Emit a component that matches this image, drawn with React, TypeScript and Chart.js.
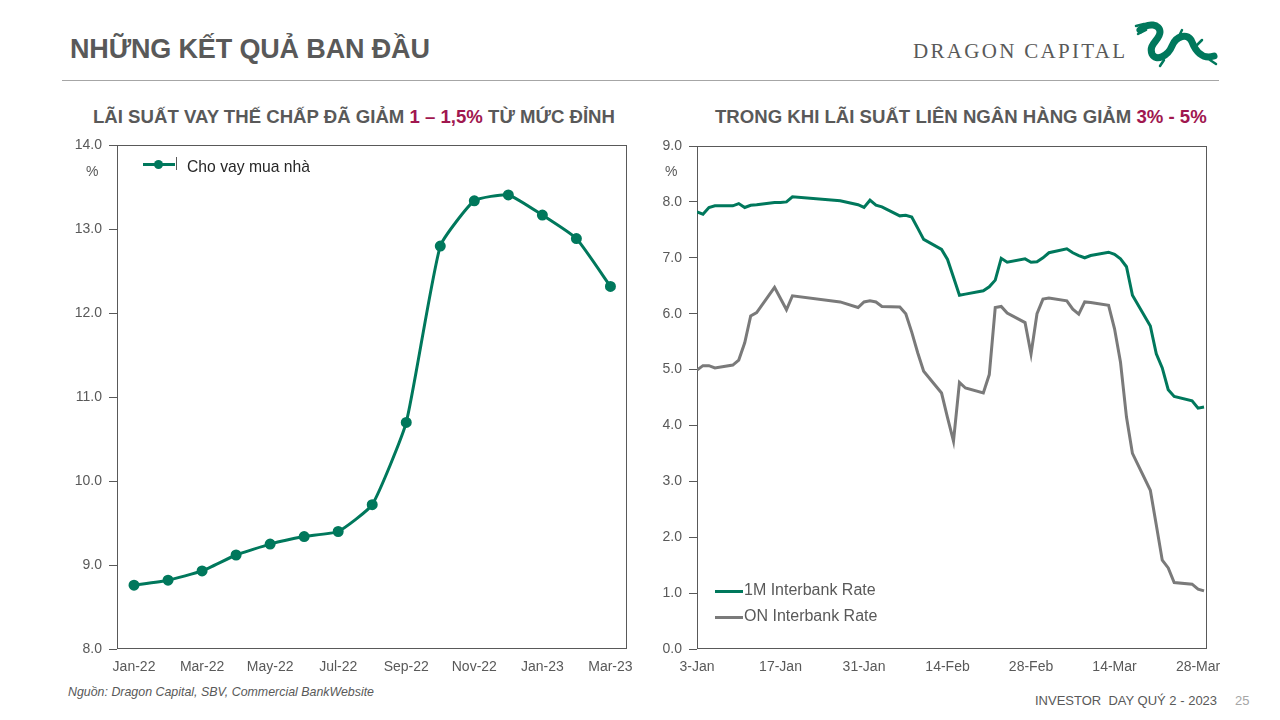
import React, { useEffect, useRef } from "react";
import { Chart, registerables } from "chart.js";

Chart.register(...registerables);

// ---------- Data ----------
const mortgageMonths = [
  "Jan-22", "Feb-22", "Mar-22", "Apr-22", "May-22", "Jun-22", "Jul-22", "Aug-22",
  "Sep-22", "Oct-22", "Nov-22", "Dec-22", "Jan-23", "Feb-23", "Mar-23",
];
const mortgageRates = [
  8.76, 8.82, 8.93, 9.12, 9.25, 9.34, 9.40, 9.72, 10.70, 12.80, 13.34, 13.41, 13.17, 12.89, 12.32,
];
const mortgageYTicks = [8, 9, 10, 11, 12, 13, 14];

const interbankDates = [
  "01-03", "01-04", "01-05", "01-06", "01-09", "01-10", "01-11", "01-12", "01-13",
  "01-16", "01-17", "01-18", "01-19", "01-27", "01-30", "01-31",
  "02-01", "02-02", "02-03", "02-06", "02-07", "02-08", "02-09", "02-10",
  "02-13", "02-14", "02-15", "02-16", "02-17", "02-20", "02-21", "02-22", "02-23", "02-24",
  "02-27", "02-28", "03-01", "03-02", "03-03", "03-06", "03-07", "03-08", "03-09", "03-10",
  "03-13", "03-14", "03-15", "03-16", "03-17", "03-20", "03-21", "03-22", "03-23", "03-24",
  "03-27", "03-28", "03-29",
];
const rate1M = [
  7.82, 7.78, 7.90, 7.93, 7.93, 7.97, 7.90, 7.94, 7.95,
  7.99, 7.99, 8.00, 8.09, 8.02, 7.95, 7.90,
  8.03, 7.94, 7.91, 7.75, 7.76, 7.73, 7.53, 7.33,
  7.15, 6.97, 6.65, 6.33, 6.35, 6.41, 6.48, 6.60, 6.99, 6.92,
  6.98, 6.92, 6.93, 7.00, 7.09, 7.16, 7.09, 7.04, 7.00, 7.04,
  7.10, 7.06, 6.98, 6.84, 6.33, 5.78, 5.28, 5.03, 4.64, 4.52,
  4.44, 4.31, 4.33,
];
const rateON = [
  4.99, 5.07, 5.07, 5.03, 5.08, 5.17, 5.48, 5.96, 6.02,
  6.47, 6.27, 6.07, 6.32, 6.21, 6.11, 6.21,
  6.23, 6.21, 6.13, 6.12, 6.00, 5.67, 5.30, 4.97,
  4.58, 4.14, 3.72, 4.77, 4.67, 4.58, 4.91, 6.11, 6.13, 6.01,
  5.84, 5.28, 6.00, 6.26, 6.28, 6.23, 6.08, 5.99, 6.21, 6.20,
  6.15, 5.73, 5.13, 4.15, 3.50, 2.84, 2.22, 1.59, 1.45, 1.19,
  1.16, 1.07, 1.04,
];
const interbankTickDates = ["01-03", "01-17", "01-31", "02-14", "02-28", "03-14", "03-28"];
const interbankYTicks = [0, 1, 2, 3, 4, 5, 6, 7, 8, 9];

// ---------- Styles ----------
const GREEN = "#00785C";
const GREY_LINE = "#7A7A7A";
const TEXT = "#595959";
const CRIMSON = "#A0174F";
const FONT = "'Liberation Sans', Arial, sans-serif";
const MONTHS = ["Jan", "Feb", "Mar", "Apr", "May", "Jun", "Jul", "Aug", "Sep", "Oct", "Nov", "Dec"];

const BASE = Date.UTC(2023, 0, 3);
const toDay = (s: string) =>
  (Date.UTC(2023, parseInt(s.slice(0, 2), 10) - 1, parseInt(s.slice(3, 5), 10)) - BASE) / 86400000;
const dayLabel = (v: number) => {
  const d = new Date(BASE + v * 86400000);
  return `${d.getUTCDate()}-${MONTHS[d.getUTCMonth()]}`;
};

const boxPlugin = {
  id: "plotBox",
  beforeDatasetsDraw(chart: any) {
    const { ctx, chartArea: a } = chart;
    ctx.save();
    ctx.strokeStyle = "#595959";
    ctx.lineWidth = 1;
    const l = Math.round(a.left) + 0.5;
    const t = Math.round(a.top) + 0.5;
    const r = Math.round(a.right) - 0.5;
    const b = Math.round(a.bottom) - 0.5;
    ctx.strokeRect(l, t, r - l, b - t);
    ctx.restore();
  },
};

function MortgageChart() {
  const ref = useRef<HTMLCanvasElement | null>(null);
  useEffect(() => {
    if (!ref.current) return;
    const chart = new Chart(ref.current, {
      type: "line",
      data: {
        labels: mortgageMonths,
        datasets: [
          {
            label: "Cho vay mua nhà",
            data: mortgageRates,
            borderColor: GREEN,
            backgroundColor: GREEN,
            borderWidth: 3,
            pointRadius: 4,
            pointBackgroundColor: GREEN,
            pointBorderColor: GREEN,
            tension: 0.15,
          },
        ],
      },
      options: {
        animation: false,
        responsive: false,
        maintainAspectRatio: false,
        layout: { padding: { top: 13, right: 12, left: 0, bottom: 0 } },
        plugins: { legend: { display: false }, tooltip: { enabled: false } },
        scales: {
          x: {
            type: "category",
            offset: true,
            grid: { display: false, drawTicks: false },
            border: { display: false },
            ticks: {
              autoSkip: false,
              maxRotation: 0,
              padding: 10,
              color: TEXT,
              font: { family: FONT, size: 14 },
              callback: (_v: any, i: number) => (i % 2 === 0 ? mortgageMonths[i] : ""),
            },
            afterFit: (s: any) => {
              s.height = 36;
            },
          },
          y: {
            min: mortgageYTicks[0],
            max: mortgageYTicks[mortgageYTicks.length - 1],
            afterBuildTicks: (s: any) => {
              s.ticks = mortgageYTicks.map((v) => ({ value: v }));
            },
            grid: { drawOnChartArea: false, tickLength: 8, color: "#595959" },
            border: { display: false },
            ticks: {
              padding: 7,
              color: TEXT,
              font: { family: FONT, size: 14 },
              callback: (v: any) => Number(v).toFixed(1),
            },
            afterFit: (s: any) => {
              s.width = 57;
            },
          },
        },
      },
      plugins: [boxPlugin],
    } as any);
    return () => chart.destroy();
  }, []);
  return (
    <canvas
      ref={ref}
      width={583}
      height={555}
      style={{ position: "absolute", left: 60, top: 130, width: 583, height: 555 }}
    />
  );
}

function InterbankChart() {
  const ref = useRef<HTMLCanvasElement | null>(null);
  useEffect(() => {
    if (!ref.current) return;
    const days = interbankDates.map(toDay);
    const chart = new Chart(ref.current, {
      type: "line",
      data: {
        datasets: [
          {
            label: "1M Interbank Rate",
            data: days.map((d, i) => ({ x: d, y: rate1M[i] })),
            borderColor: GREEN,
            borderWidth: 3,
            pointRadius: 0,
            tension: 0,
          },
          {
            label: "ON Interbank Rate",
            data: days.map((d, i) => ({ x: d, y: rateON[i] })),
            borderColor: GREY_LINE,
            borderWidth: 3,
            pointRadius: 0,
            tension: 0,
          },
        ],
      },
      options: {
        animation: false,
        responsive: false,
        maintainAspectRatio: false,
        layout: { padding: { top: 16, right: 33, left: 0, bottom: 0 } },
        plugins: { legend: { display: false }, tooltip: { enabled: false } },
        scales: {
          x: {
            type: "linear",
            min: 0,
            max: 85.5,
            afterBuildTicks: (s: any) => {
              s.ticks = interbankTickDates.map((t) => ({ value: toDay(t) }));
            },
            grid: { display: false, drawTicks: false },
            border: { display: false },
            ticks: {
              autoSkip: false,
              maxRotation: 0,
              padding: 10,
              color: TEXT,
              font: { family: FONT, size: 14 },
              callback: (v: any) => dayLabel(Number(v)),
            },
            afterFit: (s: any) => {
              s.height = 36;
            },
          },
          y: {
            min: interbankYTicks[0],
            max: interbankYTicks[interbankYTicks.length - 1],
            afterBuildTicks: (s: any) => {
              s.ticks = interbankYTicks.map((v) => ({ value: v }));
            },
            grid: { drawOnChartArea: false, tickLength: 8, color: "#595959" },
            border: { display: false },
            ticks: {
              padding: 7,
              color: TEXT,
              font: { family: FONT, size: 14 },
              callback: (v: any) => Number(v).toFixed(1),
            },
            afterFit: (s: any) => {
              s.width = 47;
            },
          },
        },
      },
      plugins: [boxPlugin],
    } as any);
    return () => chart.destroy();
  }, []);
  return (
    <canvas
      ref={ref}
      width={590}
      height={555}
      style={{ position: "absolute", left: 650, top: 130, width: 590, height: 555 }}
    />
  );
}

const abs = (s: React.CSSProperties): React.CSSProperties => ({ position: "absolute", whiteSpace: "nowrap", ...s });

function DragonLogo() {
  return (
    <svg width={92} height={52} viewBox="0 0 92 52" style={{ position: "absolute", left: 1130, top: 16 }}>
      <g fill="none" stroke={GREEN} strokeLinecap="round" strokeLinejoin="round">
        <path d="M10 14 C 18 6, 30 8, 30 16 C 30 24, 18 28, 22 38 C 26 46, 38 40, 42 30 C 46 20, 58 16, 62 26 C 65 34, 72 44, 84 40" strokeWidth={7} />
        <path d="M6 10 L 14 8 M8 18 L 16 14 M34 44 L 30 50 M48 22 L 52 14 M66 30 L 72 24 M80 44 L 86 48" strokeWidth={2.5} />
      </g>
    </svg>
  );
}

export default function App() {
  return (
    <div
      style={{
        position: "absolute",
        left: 0,
        top: 0,
        width: 1280,
        height: 720,
        background: "#ffffff",
        overflow: "hidden",
        fontFamily: FONT,
        color: TEXT,
      }}
    >
      <div style={abs({ left: 70, top: 34, fontSize: 27, fontWeight: 700, letterSpacing: -0.15 })}>
        NHỮNG KẾT QUẢ BAN ĐẦU
      </div>
      <div
        style={abs({
          left: 913,
          top: 39,
          fontSize: 21,
          letterSpacing: 2.3,
          fontFamily: "'Liberation Serif', 'DejaVu Serif', serif",
          color: "#595959",
        })}
      >
        DRAGON CAPITAL
      </div>
      <DragonLogo />
      <div style={abs({ left: 62, top: 80, width: 1157, height: 1, background: "#A6A6A6" })} />

      <div style={abs({ left: 93, top: 106, fontSize: 18.6, fontWeight: 700 })}>
        LÃI SUẤT VAY THẾ CHẤP ĐÃ GIẢM <span style={{ color: CRIMSON }}>1 – 1,5%</span> TỪ MỨC ĐỈNH
      </div>
      <div style={abs({ left: 715, top: 106, fontSize: 18.6, fontWeight: 700 })}>
        TRONG KHI LÃI SUẤT LIÊN NGÂN HÀNG GIẢM <span style={{ color: CRIMSON }}>3% - 5%</span>
      </div>

      <MortgageChart />
      <InterbankChart />

      <div style={abs({ left: 86, top: 163, fontSize: 14 })}>%</div>
      <div style={abs({ left: 665, top: 163, fontSize: 14 })}>%</div>

      {/* left legend */}
      <div style={abs({ left: 143, top: 163, width: 32, height: 3, background: GREEN })} />
      <div style={abs({ left: 154, top: 160, width: 9, height: 9, borderRadius: "50%", background: GREEN })} />
      <div style={abs({ left: 176, top: 157, width: 1, height: 13, background: "#595959" })} />
      <div style={abs({ left: 187, top: 158, fontSize: 15.7, color: "#262626" })}>Cho vay mua nhà</div>

      {/* right legend */}
      <div style={abs({ left: 715, top: 590, width: 28, height: 3, background: GREEN })} />
      <div style={abs({ left: 744, top: 581, fontSize: 16 })}>1M Interbank Rate</div>
      <div style={abs({ left: 715, top: 616, width: 28, height: 3, background: GREY_LINE })} />
      <div style={abs({ left: 744, top: 607, fontSize: 16 })}>ON Interbank Rate</div>

      <div style={abs({ left: 68, top: 685, fontSize: 12.4, fontStyle: "italic" })}>
        Nguồn: Dragon Capital, SBV, Commercial BankWebsite
      </div>
      <div style={abs({ left: 1035, top: 693, fontSize: 13 })}>INVESTOR&nbsp; DAY QUÝ 2 - 2023</div>
      <div style={abs({ left: 1235, top: 693, fontSize: 13, color: "#A6A6A6" })}>25</div>
    </div>
  );
}
